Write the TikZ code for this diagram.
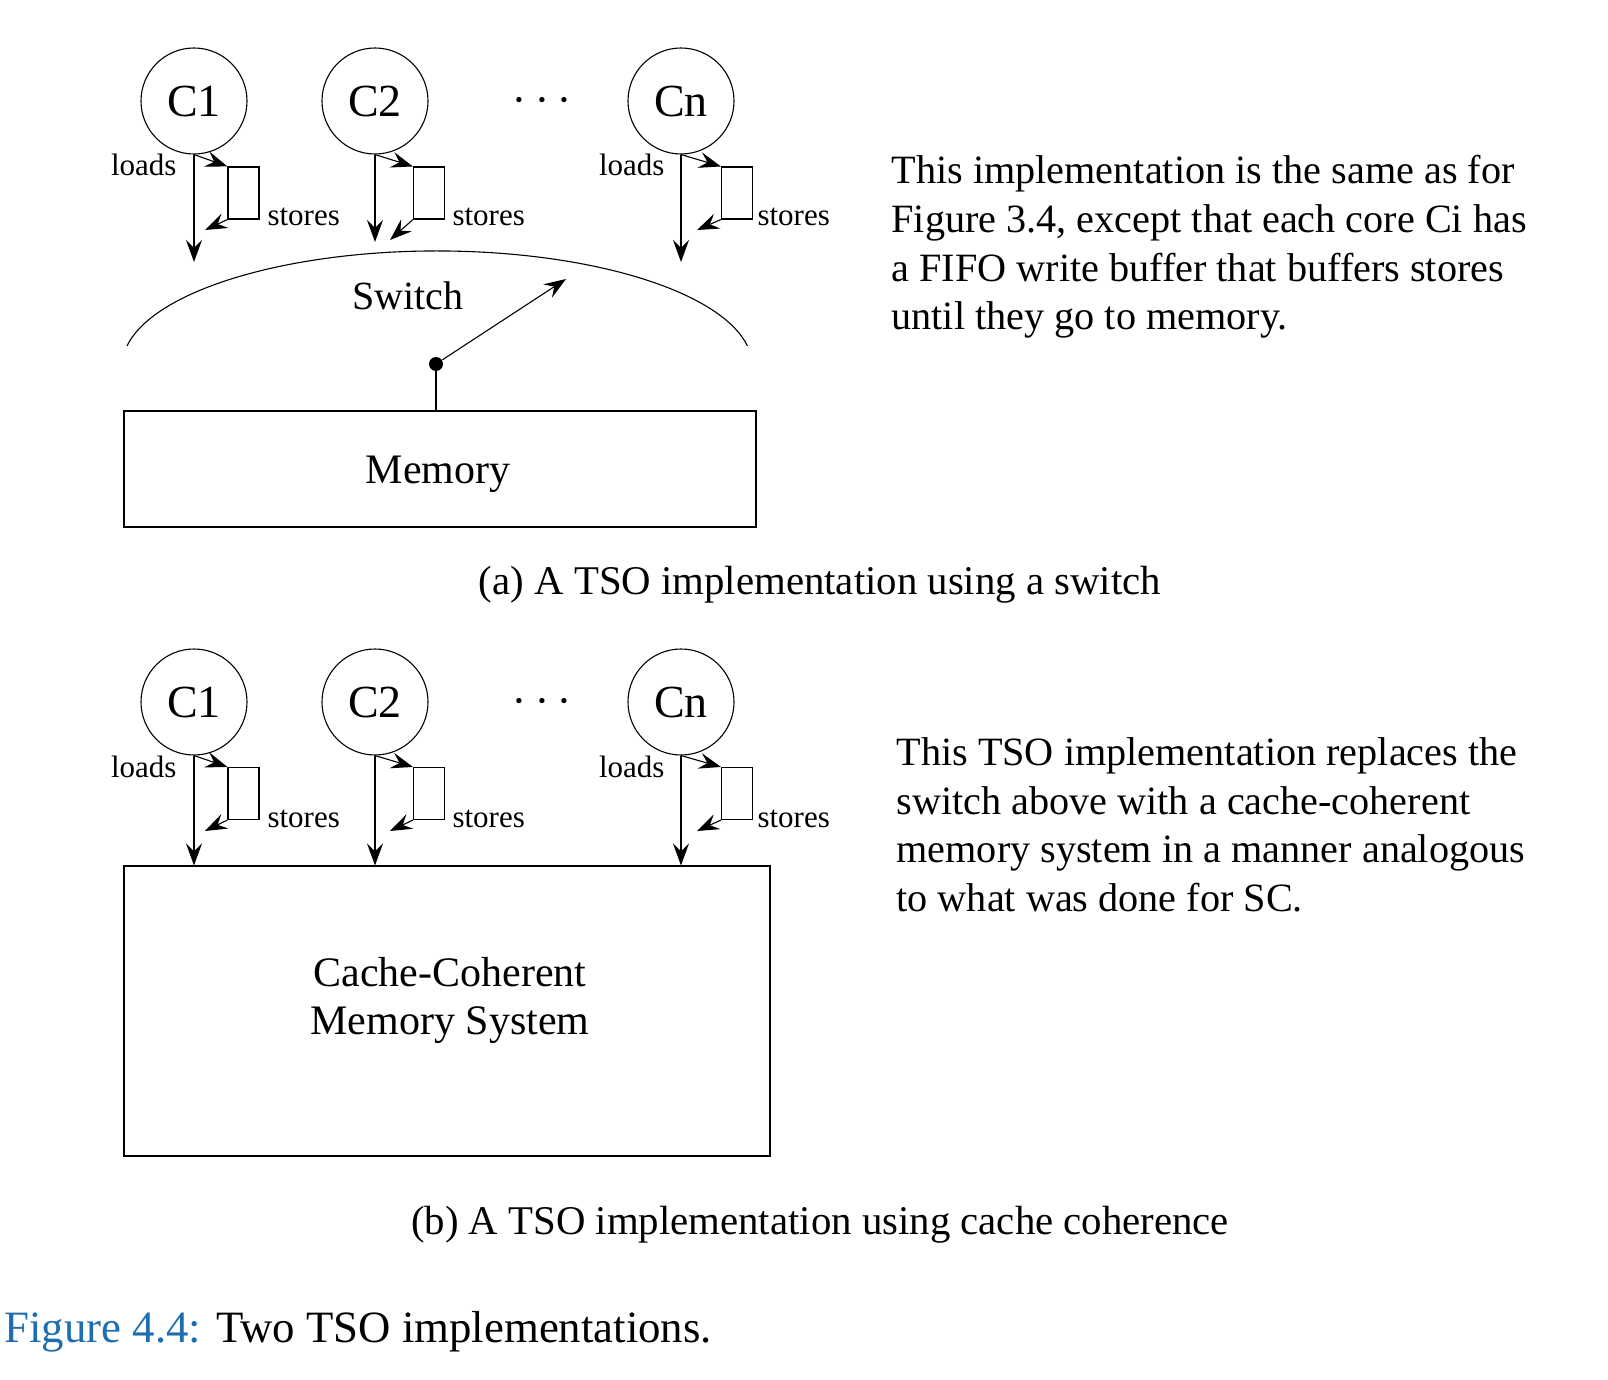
\documentclass[tikz,border=0pt]{standalone}
\usepackage{fontspec}
\setmainfont{Liberation Serif}
\usetikzlibrary{arrows.meta}
\definecolor{figblue}{RGB}{30,110,175}
\begin{document}
\begin{tikzpicture}[x=0.5pt,y=-0.5pt,
  line width=0.55pt,
  core/.style={circle,draw,minimum size=53pt,inner sep=0pt,font=\fontsize{23}{27}\selectfont},
  buf/.style={rectangle,draw,minimum width=15.5pt,minimum height=26pt,inner sep=0pt},
  arr/.style={-{Stealth[length=11pt,width=8pt,inset=4pt]}},
  small/.style={font=\fontsize{15.5}{18}\selectfont,inner sep=0pt},
  body/.style={font=\fontsize{20.1}{24.3}\selectfont,align=left,inner sep=0pt},
  captxt/.style={font=\fontsize{20.4}{24}\selectfont,inner sep=0pt},
  big/.style={font=\fontsize{21}{24}\selectfont,inner sep=0pt},
  bigbox/.style={rectangle,draw,inner sep=0pt}]
\useasboundingbox (0,0) rectangle (1608,1380);
\fill[white] (0,0) rectangle (1608,1380);

% ---------------- panel (a) ----------------
\node[core] (a1) at (194,101) {C1};
\node[core] (a2) at (375,101) {C2};
\node[core] (an) at (681,101) {Cn};
\node[font=\fontsize{24}{24}\selectfont] (adots) at (542,101) {$\cdots$};

\node[buf] (ab1) at (243.5,193) {};
\node[buf] (ab2) at (429,193) {};
\node[buf] (abn) at (737,193) {};

\coordinate (al1) at (194,262);
\coordinate (al2) at (375,242);
\coordinate (aln) at (681,262);
\coordinate (as1) at (205,230);
\coordinate (as2) at (390,240);
\coordinate (asn) at (697,230);

\draw[arr] (a1.south) -- (al1);
\draw[arr] (a1.south) -- (ab1.north west);
\draw[arr] (ab1.south west) -- (as1);
\draw[arr] (a2.south) -- (al2);
\draw[arr] (a2.south) -- (ab2.north west);
\draw[arr] (ab2.south west) -- (as2);
\draw[arr] (an.south) -- (aln);
\draw[arr] (an.south) -- (abn.north west);
\draw[arr] (abn.south west) -- (asn);

\node[small,anchor=base east] (alab1) at (177,176) {loads};
\node[small,anchor=base west] (aslab1) at (267,226) {stores};
\node[small,anchor=base west] (aslab2) at (452,226) {stores};
\node[small,anchor=base east] (alabn) at (665,176) {loads};
\node[small,anchor=base west] (aslabn) at (757,226) {stores};

% switch
\draw (127,346) arc[start angle=170,end angle=10,x radius=157.5pt,y radius=57.5pt];
\node[font=\fontsize{20}{24}\selectfont] (sw) at (408,296) {Switch};
\node[circle,fill,inner sep=0pt,minimum size=7pt] (dot) at (436,364) {};
\coordinate (swtip) at (566,279);
\draw[arr] (dot) -- (swtip);
\node[bigbox,minimum width=316pt,minimum height=58pt] (mem) at (440,469) {};
\node[big] (memtxt) at (438,474) {Memory};
\draw (dot.center) -- (dot |- mem.north);

\node[captxt] (capa) at (820,585) {(a) A TSO implementation using a switch};

\node[body,anchor=west] (texta) at (891,247) {This implementation is the same as for\\Figure 3.4, except that each core Ci has\\a FIFO write buffer that buffers stores\\until they go to memory.};

% ---------------- panel (b) ----------------
\node[core] (b1) at (194,702) {C1};
\node[core] (b2) at (375,702) {C2};
\node[core] (bn) at (681,702) {Cn};
\node[font=\fontsize{24}{24}\selectfont] (bdots) at (542,702) {$\cdots$};

\node[buf] (bb1) at (243.5,793.5) {};
\node[buf] (bb2) at (429,793.5) {};
\node[buf] (bbn) at (737,793.5) {};

\node[bigbox,minimum width=323pt,minimum height=145pt] (ccm) at (447,1011) {};
\node[big,align=center] (ccmtxt) at (450,1000) {Cache-Coherent\\Memory System};

\coordinate (bs1) at (205,831);
\coordinate (bs2) at (390,831);
\coordinate (bsn) at (697,831);

\draw[arr] (b1.south) -- (b1.south |- ccm.north);
\draw[arr] (b1.south) -- (bb1.north west);
\draw[arr] (bb1.south west) -- (bs1);
\draw[arr] (b2.south) -- (b2.south |- ccm.north);
\draw[arr] (b2.south) -- (bb2.north west);
\draw[arr] (bb2.south west) -- (bs2);
\draw[arr] (bn.south) -- (bn.south |- ccm.north);
\draw[arr] (bn.south) -- (bbn.north west);
\draw[arr] (bbn.south west) -- (bsn);

\node[small,anchor=base east] (blab1) at (177,777) {loads};
\node[small,anchor=base west] (bslab1) at (267,827) {stores};
\node[small,anchor=base west] (bslab2) at (452,827) {stores};
\node[small,anchor=base east] (blabn) at (665,777) {loads};
\node[small,anchor=base west] (bslabn) at (757,827) {stores};

\node[captxt] (capb) at (820,1225) {(b) A TSO implementation using cache coherence};

\node[body,anchor=west] (textb) at (896,825) {This TSO implementation replaces the\\switch above with a cache-coherent\\memory system in a manner analogous\\to what was done for SC.};

% figure caption
\node[font=\fontsize{22.4}{26}\selectfont,anchor=west,inner sep=0pt] (figcap) at (4,1332) {\textcolor{figblue}{Figure 4.4:} Two TSO implementations.};
\end{tikzpicture}
\end{document}
